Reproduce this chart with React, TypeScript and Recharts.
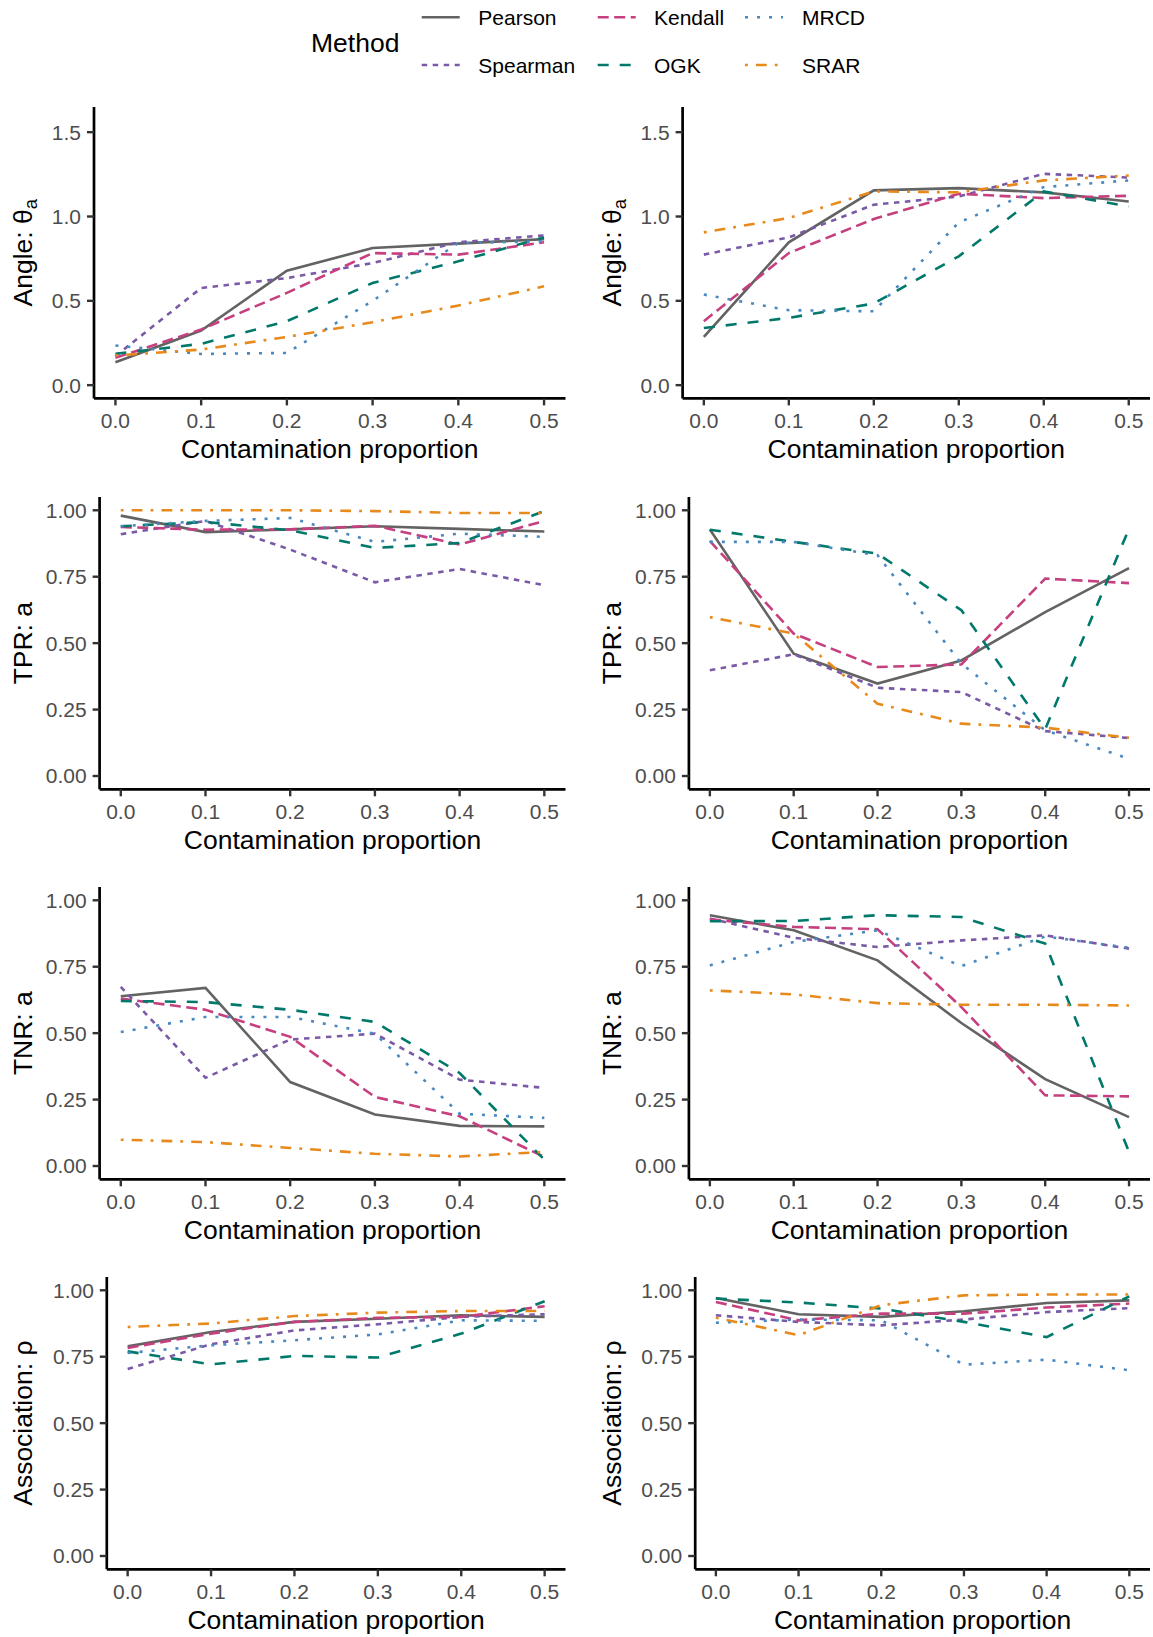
import React from 'react';
import { LineChart, Line, XAxis, YAxis } from 'recharts';

// ---------- data ----------
const proportions = [0, 0.1, 0.2, 0.3, 0.4, 0.5];
const xTicks = [0, 0.1, 0.2, 0.3, 0.4, 0.5];
const angleTicks = [0, 0.5, 1, 1.5];
const rateTicks = [0, 0.25, 0.5, 0.75, 1];
const methods = ['Pearson', 'Spearman', 'Kendall', 'OGK', 'MRCD', 'SRAR'];
const legendOrder = [
  ['Pearson', 'Kendall', 'MRCD'],
  ['Spearman', 'OGK', 'SRAR'],
];

const angleLeft = {
  Pearson: [0.136, 0.324, 0.679, 0.813, 0.839, 0.866],
  Spearman: [0.172, 0.576, 0.635, 0.724, 0.847, 0.888],
  Kendall: [0.162, 0.33, 0.547, 0.783, 0.774, 0.847],
  OGK: [0.186, 0.245, 0.379, 0.606, 0.734, 0.876],
  MRCD: [0.235, 0.185, 0.191, 0.5, 0.843, 0.853],
  SRAR: [0.176, 0.211, 0.286, 0.373, 0.472, 0.586],
};
const angleRight = {
  Pearson: [0.286, 0.847, 1.155, 1.168, 1.143, 1.089],
  Spearman: [0.774, 0.876, 1.07, 1.119, 1.253, 1.231],
  Kendall: [0.379, 0.783, 0.985, 1.135, 1.109, 1.123],
  OGK: [0.339, 0.399, 0.484, 0.764, 1.149, 1.06],
  MRCD: [0.537, 0.444, 0.438, 0.965, 1.174, 1.214],
  SRAR: [0.906, 0.991, 1.149, 1.143, 1.214, 1.243],
};
const tprLeft = {
  Pearson: [0.98, 0.918, 0.928, 0.94, 0.93, 0.92],
  Spearman: [0.91, 0.96, 0.852, 0.729, 0.779, 0.718],
  Kendall: [0.937, 0.927, 0.928, 0.942, 0.871, 0.96],
  OGK: [0.94, 0.956, 0.925, 0.858, 0.877, 0.997],
  MRCD: [0.94, 0.96, 0.971, 0.881, 0.912, 0.9],
  SRAR: [1.0, 1.0, 1.0, 0.997, 0.99, 0.99],
};
const tprRight = {
  Pearson: [0.928, 0.46, 0.348, 0.435, 0.617, 0.782],
  Spearman: [0.398, 0.458, 0.332, 0.316, 0.169, 0.143],
  Kendall: [0.885, 0.536, 0.41, 0.42, 0.743, 0.726],
  OGK: [0.927, 0.881, 0.837, 0.624, 0.176, 0.931],
  MRCD: [0.881, 0.881, 0.831, 0.423, 0.172, 0.065],
  SRAR: [0.598, 0.536, 0.272, 0.197, 0.182, 0.144],
};
const tnrLeft = {
  Pearson: [0.639, 0.67, 0.316, 0.194, 0.151, 0.149],
  Spearman: [0.674, 0.332, 0.476, 0.498, 0.325, 0.294],
  Kendall: [0.63, 0.588, 0.486, 0.26, 0.187, 0.034],
  OGK: [0.621, 0.617, 0.588, 0.542, 0.35, 0.024],
  MRCD: [0.504, 0.561, 0.561, 0.498, 0.197, 0.181],
  SRAR: [0.099, 0.09, 0.068, 0.046, 0.036, 0.053],
};
const tnrRight = {
  Pearson: [0.944, 0.887, 0.774, 0.538, 0.327, 0.184],
  Spearman: [0.931, 0.859, 0.824, 0.849, 0.868, 0.818],
  Kendall: [0.928, 0.9, 0.891, 0.598, 0.266, 0.262],
  OGK: [0.921, 0.922, 0.944, 0.937, 0.837, 0.053],
  MRCD: [0.755, 0.843, 0.887, 0.752, 0.864, 0.821],
  SRAR: [0.661, 0.646, 0.613, 0.607, 0.607, 0.604],
};
const assocLeft = {
  Pearson: [0.789, 0.843, 0.881, 0.893, 0.906, 0.9],
  Spearman: [0.704, 0.797, 0.849, 0.872, 0.9, 0.91],
  Kendall: [0.783, 0.837, 0.881, 0.896, 0.9, 0.94],
  OGK: [0.77, 0.721, 0.753, 0.747, 0.837, 0.959],
  MRCD: [0.764, 0.793, 0.812, 0.834, 0.887, 0.885],
  SRAR: [0.862, 0.875, 0.903, 0.916, 0.922, 0.922],
};
const assocRight = {
  Pearson: [0.971, 0.91, 0.9, 0.921, 0.952, 0.962],
  Spearman: [0.906, 0.881, 0.868, 0.89, 0.918, 0.933],
  Kendall: [0.956, 0.887, 0.912, 0.912, 0.935, 0.95],
  OGK: [0.969, 0.954, 0.931, 0.881, 0.824, 0.977],
  MRCD: [0.878, 0.89, 0.887, 0.72, 0.739, 0.699],
  SRAR: [0.897, 0.831, 0.944, 0.981, 0.984, 0.984],
};

// ---------- styles ----------
const FONT = '"Liberation Sans", Arial, Helvetica, sans-serif';
const LINE_W = 2.6;
const methodStyle: Record<string, { color: string; dash?: string }> = {
  Pearson: { color: '#636363' },
  Spearman: { color: '#7A5AA6', dash: '5.5 5.5' },
  Kendall: { color: '#C6407F', dash: '11 5.5' },
  OGK: { color: '#00796B', dash: '11 11' },
  MRCD: { color: '#4A89C0', dash: '3 9' },
  SRAR: { color: '#E8891C', dash: '2.8 8.1 10.8 8.1' },
};

const rows = [
  { T: 107.1, B: 398.5 },
  { T: 496.7, B: 789 },
  { T: 886.7, B: 1179 },
  { T: 1276.7, B: 1569 },
];
const cols = [
  { start: 0, R: 565.5, titleX: 32, L: [94, 99.6, 99.6, 106.8] },
  { start: 578, R: 1150, titleX: 43, L: [682.6, 688.9, 688.9, 695.2] },
];

const panels = [
  { series: angleLeft, row: 0, col: 0, kind: 'angle', label: 'Angle: θ', sub: 'a' },
  { series: angleRight, row: 0, col: 1, kind: 'angle', label: 'Angle: θ', sub: 'a' },
  { series: tprLeft, row: 1, col: 0, kind: 'rate', label: 'TPR: a' },
  { series: tprRight, row: 1, col: 1, kind: 'rate', label: 'TPR: a' },
  { series: tnrLeft, row: 2, col: 0, kind: 'rate', label: 'TNR: a' },
  { series: tnrRight, row: 2, col: 1, kind: 'rate', label: 'TNR: a' },
  { series: assocLeft, row: 3, col: 0, kind: 'rate', label: 'Association: ρ' },
  { series: assocRight, row: 3, col: 1, kind: 'rate', label: 'Association: ρ' },
];

const X_AXIS_H = 80;

function buildRows(series: Record<string, number[]>) {
  return proportions.map((p, i) => {
    const r: Record<string, number> = { x: p };
    methods.forEach((m) => {
      r[m] = series[m][i];
    });
    return r;
  });
}

function Panel({ p }: { p: any }) {
  const row = rows[p.row];
  const col = cols[p.col];
  const L = col.L[p.row];
  const width = col.R - col.start;
  const height = row.B - row.T + X_AXIS_H;
  const yAxisW = L - col.start;
  const isAngle = p.kind === 'angle';
  const yDomain = isAngle ? [-0.0785, 1.6493] : [-0.05, 1.05];
  const yTicks = isAngle ? angleTicks : rateTicks;
  const data = buildRows(p.series);
  const plotH = row.B - row.T;

  const yLabel = () => {
    const cx = col.titleX;
    const cy = plotH / 2;
    return (
      <text
        x={cx}
        y={cy}
        transform={`rotate(-90, ${cx}, ${cy})`}
        textAnchor="middle"
        fontSize={26.5}
        fill="#000"
        fontFamily={FONT}
      >
        {p.label}
        {p.sub ? (
          <tspan fontSize={18.5} dy={5}>
            {p.sub}
          </tspan>
        ) : null}
      </text>
    );
  };

  const xLabel = () => {
    const plotW = col.R - L;
    return (
      <text
        x={yAxisW + plotW / 2}
        y={plotH + 59.5}
        textAnchor="middle"
        fontSize={26.5}
        fill="#000"
        fontFamily={FONT}
      >
        Contamination proportion
      </text>
    );
  };

  return (
    <div style={{ position: 'absolute', left: col.start, top: row.T, width, height }}>
      <LineChart
        width={width}
        height={height}
        data={data}
        margin={{ top: 0, right: 0, bottom: 0, left: 0 }}
        style={{ overflow: 'visible' }}
      >
        <XAxis
          dataKey="x"
          type="number"
          domain={[-0.025, 0.525]}
          ticks={xTicks}
          allowDataOverflow
          height={X_AXIS_H}
          tickFormatter={(v: number) => v.toFixed(1)}
          tick={{ fill: '#4D4D4D', fontSize: 21, fontFamily: FONT }}
          tickSize={7}
          tickMargin={8}
          tickLine={{ stroke: '#333333', strokeWidth: 2.4 }}
          axisLine={{ stroke: '#000000', strokeWidth: 2.7 }}
          label={xLabel}
          interval={0}
        />
        <YAxis
          type="number"
          domain={yDomain}
          ticks={yTicks}
          allowDataOverflow
          width={yAxisW}
          tickFormatter={(v: number) => (isAngle ? v.toFixed(1) : v.toFixed(2))}
          tick={{ fill: '#4D4D4D', fontSize: 21, fontFamily: FONT }}
          tickSize={7}
          tickMargin={6}
          tickLine={{ stroke: '#333333', strokeWidth: 2.4 }}
          axisLine={{ stroke: '#000000', strokeWidth: 2.7 }}
          label={yLabel}
          interval={0}
        />
        {methods.map((m) => (
          <Line
            key={m}
            type="linear"
            dataKey={m}
            stroke={methodStyle[m].color}
            strokeDasharray={methodStyle[m].dash}
            strokeWidth={LINE_W}
            dot={false}
            activeDot={false}
            isAnimationActive={false}
          />
        ))}
      </LineChart>
    </div>
  );
}

function LegendBlock() {
  const colX = [
    { key: 421.7, text: 478.3 },
    { key: 597.7, text: 654 },
    { key: 745, text: 802 },
  ];
  const rowY = [17.3, 65];
  return (
    <svg
      width={1153}
      height={90}
      style={{ position: 'absolute', left: 0, top: 0 }}
      fontFamily={FONT}
    >
      <text x={311} y={51.5} fontSize={26.5} fill="#000">
        Method
      </text>
      {legendOrder.map((r, ri) =>
        r.map((m, ci) => (
          <g key={m}>
            <line
              x1={colX[ci].key}
              x2={colX[ci].key + 38}
              y1={rowY[ri]}
              y2={rowY[ri]}
              stroke={methodStyle[m].color}
              strokeDasharray={methodStyle[m].dash}
              strokeWidth={LINE_W}
            />
            <text x={colX[ci].text} y={rowY[ri] + 7.6} fontSize={21} fill="#000">
              {m}
            </text>
          </g>
        ))
      )}
    </svg>
  );
}

export default function App() {
  return (
    <div
      style={{
        position: 'absolute',
        left: 0,
        top: 0,
        width: 1153,
        height: 1637,
        background: '#fff',
        fontFamily: FONT,
      }}
    >
      <LegendBlock />
      {panels.map((p, i) => (
        <Panel key={i} p={p} />
      ))}
    </div>
  );
}
